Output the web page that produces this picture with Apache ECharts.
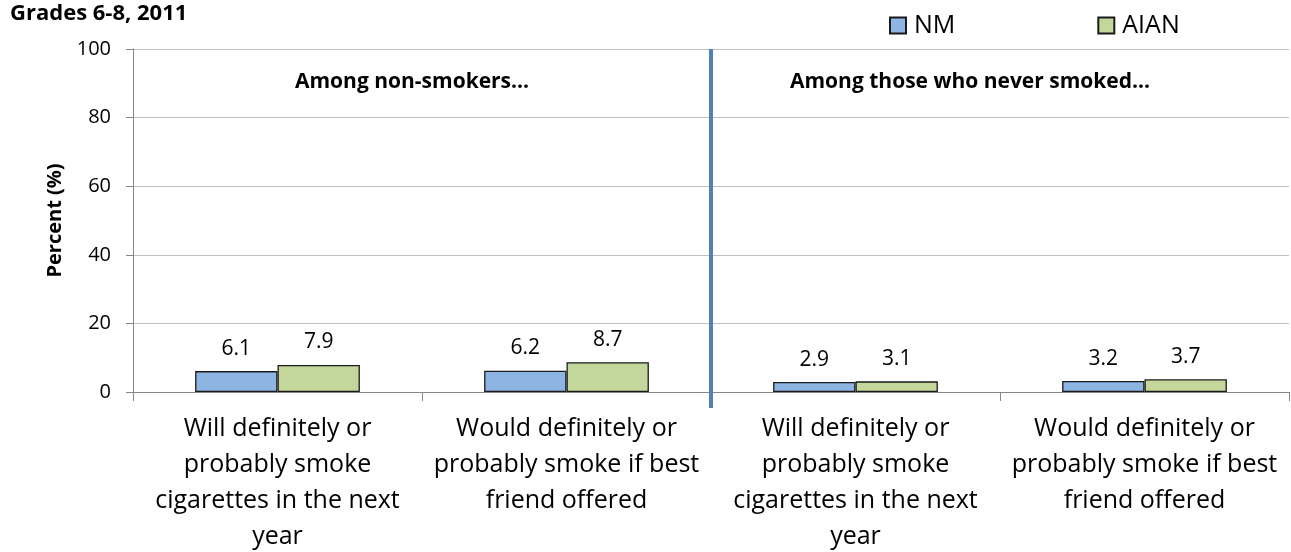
<!DOCTYPE html>
<html>
<head>
<meta charset="utf-8">
<script src="https://cdn.jsdelivr.net/npm/echarts@6/dist/echarts.min.js"></script>
<style>
  html, body { margin: 0; padding: 0; background: #fff; }
  #chart { width: 1291px; height: 552px; }
</style>
</head>
<body>
<div id="chart"></div>
<script>
// categories (two groups of two questions)
var categories = [
  "Will definitely or\nprobably smoke\ncigarettes in the next\nyear",
  "Would definitely or\nprobably smoke if best\nfriend offered",
  "Will definitely or\nprobably smoke\ncigarettes in the next\nyear",
  "Would definitely or\nprobably smoke if best\nfriend offered"
];
var nmValues = [6.1, 6.2, 2.9, 3.2];
var aianValues = [7.9, 8.7, 3.1, 3.7];
var yTicks = [0, 20, 40, 60, 80, 100];
var groupNotes = ["Among non-smokers...", "Among those who never smoked..."];

var font = "'Open Sans', sans-serif";

var chart = echarts.init(document.getElementById("chart"));

var option = {
  animation: false,
  textStyle: { fontFamily: font },
  title: {
    text: "Grades 6-8, 2011",
    left: 5,
    top: -2,
    textStyle: { fontSize: 22, fontWeight: "bold", color: "#000", fontFamily: font }
  },
  legend: {
    data: ["NM", "AIAN"],
    left: 884,
    top: 8,
    itemWidth: 16,
    itemHeight: 16,
    itemGap: 142,
    icon: "rect",
    textStyle: { fontSize: 25, color: "#000", padding: [0, 0, 0, 3], fontFamily: font }
  },
  grid: { left: 133, right: 2, top: 49, bottom: 160, outerBoundsMode: "none" },
  xAxis: {
    type: "category",
    data: categories,
    axisLine: { lineStyle: { color: "#868686", width: 1 } },
    axisTick: { show: true, alignWithLabel: false, length: 9, lineStyle: { color: "#868686" } },
    axisLabel: { interval: 0, fontSize: 25, color: "#000", lineHeight: 36, margin: 19, fontFamily: font }
  },
  yAxis: {
    type: "value",
    min: yTicks[0],
    max: yTicks[yTicks.length - 1],
    interval: 20,
    name: "Percent (%)",
    nameLocation: "middle",
    nameGap: 64,
    nameTextStyle: { fontSize: 20, fontWeight: "bold", color: "#000", fontFamily: font },
    axisLine: { show: true, lineStyle: { color: "#868686" } },
    axisTick: { show: true, length: 7, lineStyle: { color: "#868686" } },
    axisLabel: { fontSize: 20, color: "#000", margin: 22, fontFamily: font },
    splitLine: { lineStyle: { color: "#C0C0C0" } }
  },
  series: [
    {
      name: "NM",
      type: "bar",
      data: nmValues,
      barGap: "0%",
      barCategoryGap: "43%",
      itemStyle: { color: "#8DB4E2", borderColor: "#1a1a1a", borderWidth: 1.3 },
      label: { show: true, position: "top", distance: 12, fontSize: 21, color: "#000", fontFamily: font, formatter: function (p) { return p.value.toFixed(1); } }
    },
    {
      name: "AIAN",
      type: "bar",
      data: aianValues,
      itemStyle: { color: "#C4D79B", borderColor: "#1a1a1a", borderWidth: 1.3 },
      label: { show: true, position: "top", distance: 12, fontSize: 21, color: "#000", fontFamily: font, formatter: function (p) { return p.value.toFixed(1); } }
    }
  ]
};

chart.setOption(option);

// divider between the two groups + group notes, placed via the axis scale
var c0 = chart.convertToPixel({ gridIndex: 0 }, [0, 0]);
var c1 = chart.convertToPixel({ gridIndex: 0 }, [1, 0]);
var c2 = chart.convertToPixel({ gridIndex: 0 }, [2, 0]);
var c3 = chart.convertToPixel({ gridIndex: 0 }, [3, 0]);
var top100 = chart.convertToPixel({ gridIndex: 0 }, [0, 100]);
var midX = (c1[0] + c2[0]) / 2;
var leftMid = (c0[0] + c1[0]) / 2;
var rightMid = (c2[0] + c3[0]) / 2;

chart.setOption({
  graphic: [
    {
      type: "line",
      shape: { x1: midX, y1: top100[1], x2: midX, y2: c1[1] + 16 },
      style: { stroke: "#4F81BD", lineWidth: 4 },
      z: 10
    },
    {
      type: "text",
      x: leftMid - 10,
      y: 82,
      style: { text: groupNotes[0], font: "bold 21px " + font, fill: "#000", textAlign: "center", textVerticalAlign: "middle" }
    },
    {
      type: "text",
      x: rightMid - 30,
      y: 82,
      style: { text: groupNotes[1], font: "bold 21px " + font, fill: "#000", textAlign: "center", textVerticalAlign: "middle" }
    }
  ]
});

window.addEventListener("resize", function () {
  chart.resize();
});
</script>
</body>
</html>
